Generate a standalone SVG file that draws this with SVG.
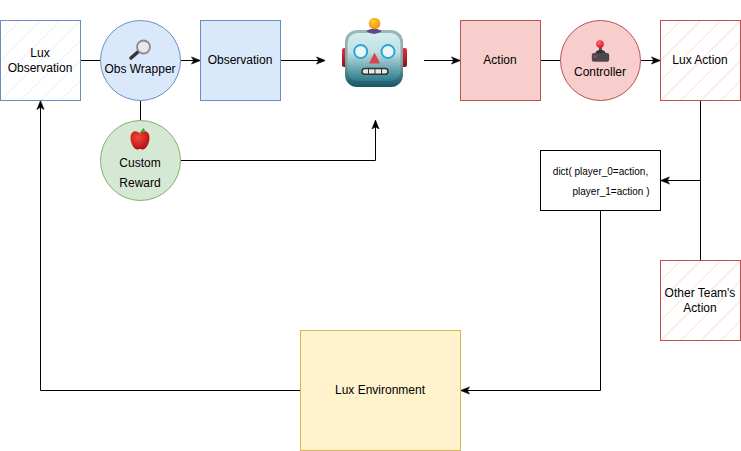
<svg xmlns="http://www.w3.org/2000/svg" width="741" height="451" viewBox="0 0 741 451">
<style>
text{font-family:"Liberation Sans",Arial,sans-serif;font-size:12px;fill:#000;text-anchor:middle}
.c{fill:none;stroke:#000;stroke-width:1}
.b{stroke:#6c8ebf;fill:#dae8fc}
.r{stroke:#b85450;fill:#f8cecc}
.g{stroke:#82b366;fill:#d5e8d4}
.y{stroke:#d6b656;fill:#fff2cc}
</style>
<defs>
<marker id="a" viewBox="0 0 10 10" refX="9.5" refY="5" markerWidth="9" markerHeight="9" markerUnits="userSpaceOnUse" orient="auto"><path d="M0 1 L10 5 L0 9 L2.5 5Z" fill="#000" stroke="#000" stroke-width=".6"/></marker>
<pattern id="hb" width="20" height="20" patternUnits="userSpaceOnUse" patternTransform="translate(0.5 0.5)"><rect width="20" height="20" fill="#fff"/><path d="M-5 5L5 -5M-5 25L25 -5M15 25L25 15" stroke="#dae8fc" stroke-width="1"/></pattern>
<pattern id="hr" width="20" height="20" patternUnits="userSpaceOnUse" patternTransform="translate(0.5 0.5)"><rect width="20" height="20" fill="#fff"/><path d="M-5 5L5 -5M-5 25L25 -5M15 25L25 15" stroke="#f8cecc" stroke-width="1"/></pattern>
<linearGradient id="rim" x1="0" y1="0" x2="0" y2="1"><stop offset="0" stop-color="#9db8b8"/><stop offset=".55" stop-color="#7fa5aa"/><stop offset="1" stop-color="#155566"/></linearGradient>
<linearGradient id="face" x1="0" y1="0" x2="0" y2="1"><stop offset="0" stop-color="#d4eeee"/><stop offset=".4" stop-color="#bfe0e2"/><stop offset="1" stop-color="#2c7c8c"/></linearGradient>
<linearGradient id="ear" x1="0" y1="0" x2="0" y2="1"><stop offset="0" stop-color="#e0343c"/><stop offset="1" stop-color="#8a1318"/></linearGradient>
<radialGradient id="ball" cx=".4" cy=".35" r=".7"><stop offset="0" stop-color="#ffd23c"/><stop offset="1" stop-color="#f08a00"/></radialGradient>
<radialGradient id="apple" cx=".4" cy=".35" r=".7"><stop offset="0" stop-color="#f04a3a"/><stop offset="1" stop-color="#b00d12"/></radialGradient>
<radialGradient id="knob" cx=".4" cy=".35" r=".7"><stop offset="0" stop-color="#ff6a70"/><stop offset="1" stop-color="#d80f20"/></radialGradient>
</defs>

<g id="connectors">
<path class="c" d="M80.5 60.500H100.500"/>
<path class="c" d="M180.500 60.500H200" marker-end="url(#a)"/>
<path class="c" d="M280.500 60.500H325" marker-end="url(#a)"/>
<path class="c" d="M424 60.500H460" marker-end="url(#a)"/>
<path class="c" d="M540.500 60.500H560.500"/>
<path class="c" d="M640.500 60.500H660" marker-end="url(#a)"/>
<path class="c" d="M140.500 100.500V120.500"/>
<path class="c" d="M180.500 160.500H375.500V120.500" marker-end="url(#a)"/>
<path class="c" d="M700.500 100.500V260.500"/>
<path class="c" d="M700.500 180.500H661" marker-end="url(#a)"/>
<path class="c" d="M600.500 210.500V390.500H461" marker-end="url(#a)"/>
<path class="c" d="M300.500 390.500H40.500V101" marker-end="url(#a)"/>
</g>

<g id="lux-observation">
<rect x="0.500" y="20.500" width="80" height="80" fill="url(#hb)" stroke="#6c8ebf"/>
<text x="40" y="57">Lux</text><text x="40" y="72">Observation</text>
</g>
<g id="obs-wrapper">
<circle class="b" cx="140.500" cy="60.500" r="40"/>
<path d="M139 51L131 58" stroke="#333" stroke-width="3.500" stroke-linecap="round"/>
<circle cx="143.500" cy="47" r="6.500" fill="#e6e8ec" stroke="#8a8a8a" stroke-width="1.800"/>
<text x="140" y="73">Obs Wrapper</text>
</g>
<g id="observation">
<rect class="b" x="200.500" y="20.500" width="80" height="80"/>
<text x="240" y="64">Observation</text>
</g>
<g id="robot">
<rect x="342" y="48" width="6" height="19" rx="2" fill="url(#ear)"/>
<rect x="401" y="48" width="6" height="19" rx="2" fill="url(#ear)"/>
<rect x="345" y="30" width="58" height="57" rx="12" fill="url(#rim)"/>
<rect x="347.500" y="33" width="53" height="48" rx="10" fill="url(#face)"/>
<path d="M366 31Q374 26 382 31Q378 34 374 34Q370 34 366 31Z" fill="#5c4a8c"/>
<circle cx="374.500" cy="23.500" r="5.800" fill="url(#ball)"/>
<circle cx="360.700" cy="51.500" r="6.500" fill="#eef5f5" stroke="#27a6e0" stroke-width="2"/>
<circle cx="388" cy="51.500" r="6.500" fill="#eef5f5" stroke="#27a6e0" stroke-width="2"/>
<path d="M374.500 52.500L380 63.500H369Z" fill="#d8454c"/>
<rect x="362" y="68.500" width="26" height="5.800" rx="2.900" fill="#e8e8e8" stroke="#333" stroke-width="1.500"/>
<path d="M368.500 69V74M375 69V74M381.500 69V74" stroke="#333" stroke-width="1"/>
</g>
<g id="action">
<rect class="r" x="460.500" y="20.500" width="80" height="80"/>
<text x="500" y="64">Action</text>
</g>
<g id="controller">
<circle class="r" cx="600.500" cy="60.500" r="40"/>
<rect x="599" y="46" width="3" height="7" fill="#555"/>
<path d="M595 55Q595 50 600.500 50Q606 50 606 55Z" fill="#333"/>
<rect x="591.800" y="53" width="17.400" height="8.800" rx="2" fill="#4a4a4e"/>
<circle cx="600" cy="44" r="3.800" fill="url(#knob)"/>
<rect x="593.500" y="55.500" width="3.500" height="2" fill="#d8303a"/>
<text x="600" y="76">Controller</text>
</g>
<g id="lux-action">
<rect x="660.500" y="20.500" width="80" height="80" fill="url(#hr)" stroke="#b85450"/>
<text x="700" y="64">Lux Action</text>
</g>
<g id="custom-reward">
<circle class="g" cx="140.500" cy="160.500" r="40"/>
<path d="M140 133.500C136 129.500 130.500 131 130.500 138C130.500 144 134.500 149.500 137 149.500C138.500 149.500 139 149 140 149C141 149 141.500 149.500 143 149.500C145.500 149.500 149.500 144 149.500 138C149.500 131 144 129.500 140 133.500Z" fill="url(#apple)"/>
<path d="M140 133L143.500 128.500L144.500 130.500Z" fill="#4fa32a" stroke="#4fa32a"/>
<text x="140" y="167">Custom</text><text x="140" y="187">Reward</text>
</g>
<g id="dict">
<rect x="540.500" y="150.500" width="120" height="60" fill="#fff" stroke="#000"/>
<text x="600.500" y="175" style="font-size:10px">dict( player_0=action,</text>
<text x="611" y="195" style="font-size:10px">player_1=action )</text>
</g>
<g id="other-team-action">
<rect x="660.500" y="260.500" width="80" height="80" fill="url(#hr)" stroke="#b85450"/>
<text x="700" y="297">Other Team's</text><text x="700" y="312">Action</text>
</g>
<g id="lux-environment">
<rect class="y" x="300.500" y="330.500" width="160" height="120"/>
<text x="380" y="394">Lux Environment</text>
</g>
</svg>
